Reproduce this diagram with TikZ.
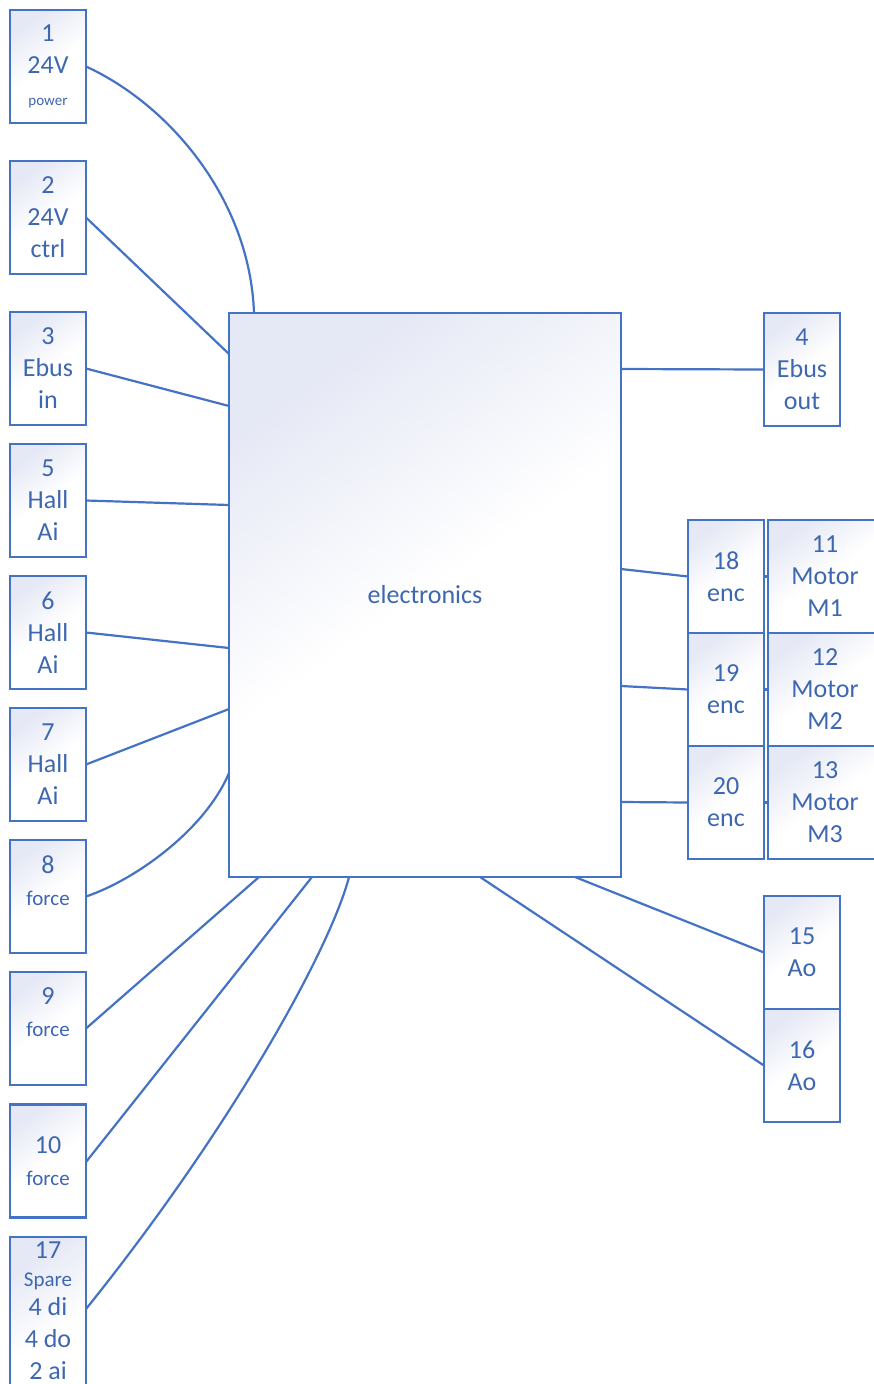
\documentclass[tikz,border=0pt]{standalone}
\usepackage{fontspec}
\setmainfont{Carlito}
\definecolor{ln}{RGB}{68,114,196}
\definecolor{tx}{RGB}{62,103,177}
\definecolor{tint}{RGB}{229,232,245}
\tikzset{
  wire/.style={draw=ln, line width=2.2pt},
  box/.style={draw=ln, line width=2.2pt, outer sep=0pt, inner sep=0pt,
    top color=tint, bottom color=white, middle color=white, shading angle=35,
    text=tx, align=center, font=\fontsize{26}{32}\selectfont},
  port/.style={box, minimum width=76pt, minimum height=113pt},
  motor/.style={box, minimum width=114pt, minimum height=113pt},
  txt/.style={text=tx, align=center, inner sep=0pt, font=\fontsize{26}{32}\selectfont}
}
\newcommand{\sm}{\fontsize{21}{32}\selectfont}
\newcommand{\smallest}{\fontsize{15}{18}\selectfont}
\begin{document}
\begin{tikzpicture}[x=1pt, y=-1pt]
\path[use as bounding box] (0,0) rectangle (873,1384);

% central unit
\node[box, minimum width=392pt, minimum height=564pt] (el) at (425,595) {electronics};

% left column
\node[port] (b1) at (48,66.5) {1\\24V\\{\smallest power}};
\node[port] (b2) at (48,217.5) {2\\24V\\ctrl};
\node[port] (b3) at (48,368.5) {3\\Ebus\\in};
\node[port] (b5) at (48,500.5) {5\\Hall\\Ai};
\node[port] (b6) at (48,632.5) {6\\Hall\\Ai};
\node[port] (b7) at (48,764.5) {7\\Hall\\Ai};
\node[port] (b8) at (48,896.5) {8\\{\sm force}\\\mbox{}};
\node[port] (b9) at (48,1028.5) {9\\{\sm force}\\\mbox{}};
\node[port] (b10) at (48,1161) {10\\{\sm force}};
\node[box, minimum width=76pt, minimum height=200pt] (b17) at (48,1337) {};
\node[txt, anchor=north] (t17) at (48,1242) {17\\[-4pt]{\sm Spare}\\[-3pt]4 di\\4 do\\2 ai};

% right column
\node[port] (b4) at (802,369.5) {4\\Ebus\\out};
\node[port] (e18) at (726,576.5) {18\\enc};
\node[port] (e19) at (726,689.5) {19\\enc};
\node[port] (e20) at (726,802.5) {20\\enc};
\node[motor] (m11) at (825,576.5) {11\\Motor\\M1};
\node[motor] (m12) at (825,689.5) {12\\Motor\\M2};
\node[motor] (m13) at (825,802.5) {13\\Motor\\M3};
\node[port] (b15) at (802,952.5) {15\\Ao};
\node[port] (b16) at (802,1065.5) {16\\Ao};

% left connectors
\draw[wire] (b1.east) .. controls (170,105) and (250,200) .. ([xshift=25pt]el.north west);
\draw[wire] (b2.east) -- ([yshift=-41pt]el.north west);
\draw[wire] (b3.east) -- ([yshift=-93pt]el.north west);
\draw[wire] (b5.east) -- ([yshift=-192pt]el.north west);
\draw[wire] (b6.east) -- ([yshift=-335pt]el.north west);
\draw[wire] (b7.east) -- ([yshift=-396pt]el.north west);
\draw[wire] (b8.east) .. controls (135,880) and (205,830) .. ([yshift=-460pt]el.north west);

% bottom connectors
\draw[wire] (b9.east) -- ([xshift=30pt]el.south west);
\draw[wire] ([yshift=-1pt]b10.east) -- ([xshift=83pt]el.south west);
\draw[wire] ([yshift=-72pt]b17.north east) .. controls (230,1130) and (330,950) .. ([xshift=120pt]el.south west);
\draw[wire] ([xshift=346pt]el.south west) -- (b15.west);
\draw[wire] ([xshift=251pt]el.south west) -- (b16.west);

% right connectors
\draw[wire] ([yshift=-56pt]el.north east) -- (b4.west);
\draw[wire] ([yshift=-256pt]el.north east) -- (e18.west);
\draw[wire] ([yshift=-373pt]el.north east) -- (e19.west);
\draw[wire] ([yshift=-489pt]el.north east) -- (e20.west);
\draw[wire] (e18.east) -- (m11.west);
\draw[wire] (e19.east) -- (m12.west);
\draw[wire] (e20.east) -- (m13.west);
\end{tikzpicture}
\end{document}
